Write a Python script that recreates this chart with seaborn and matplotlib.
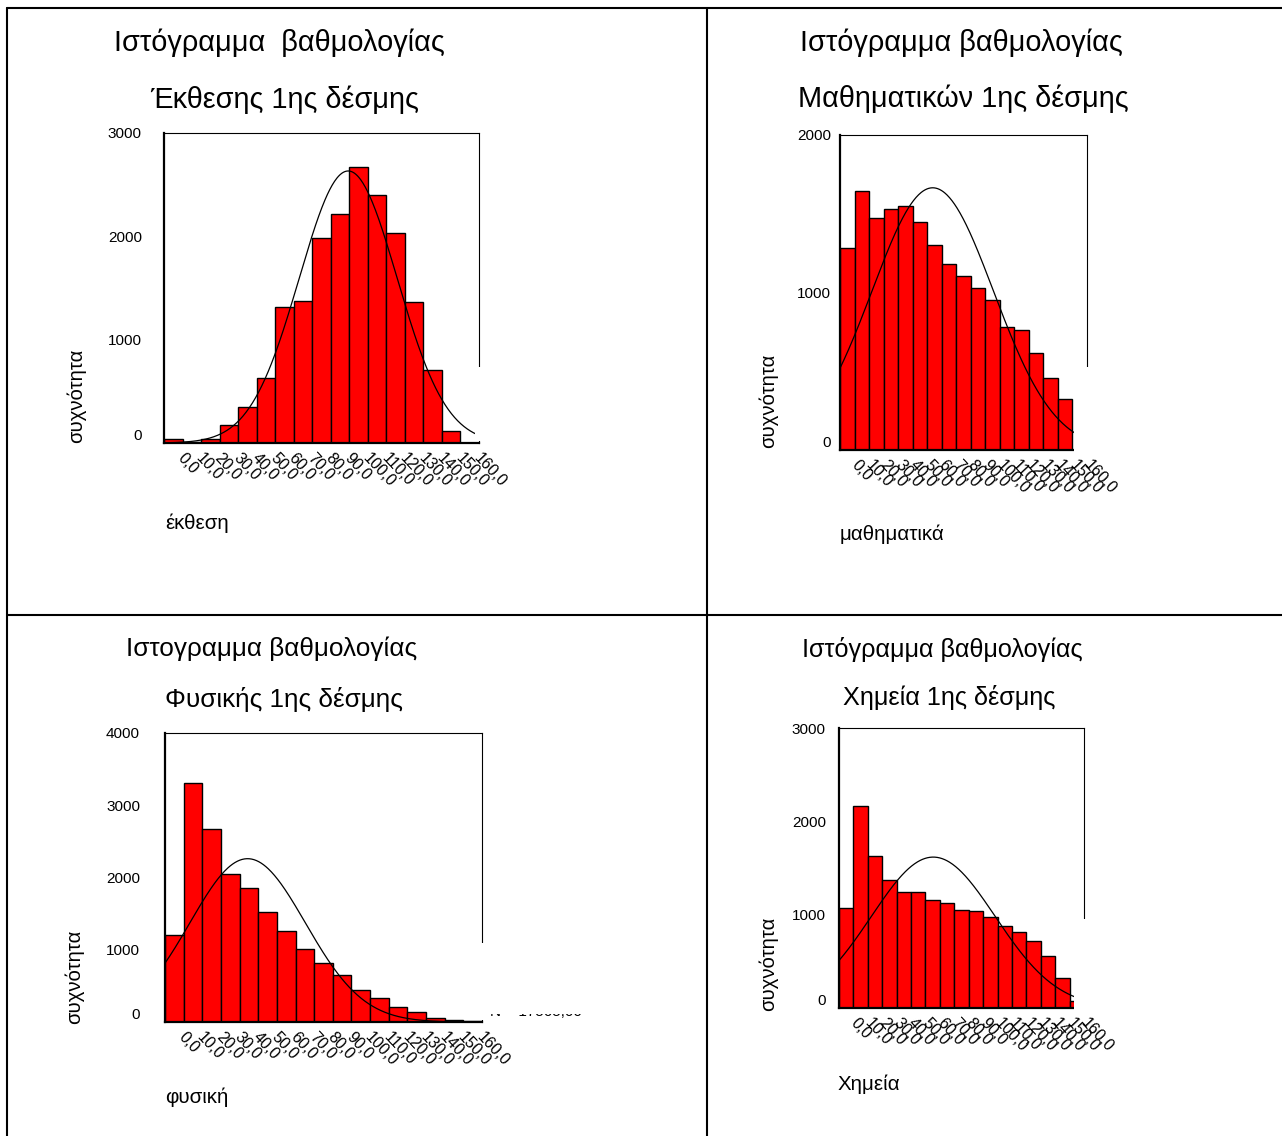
import numpy as np
import matplotlib
matplotlib.use("Agg")
import matplotlib.pyplot as plt
import matplotlib.transforms as mtransforms
from matplotlib.patches import Rectangle
from matplotlib.lines import Line2D
import seaborn as sns


# Step 1: data

# bin centres (score points) and their labels, same for all four subjects
bin_centers = [0, 10, 20, 30, 40, 50, 60, 70, 80, 90, 100, 110, 120, 130, 140, 150, 160]
bin_labels = ["0,0", "10,0", "20,0", "30,0", "40,0", "50,0", "60,0", "70,0", "80,0",
              "90,0", "100,0", "110,0", "120,0", "130,0", "140,0", "150,0", "160,0"]

# frequencies per bin
ekthesi_counts = [42, 10, 35, 171, 349, 630, 1313, 1377, 1988, 2215, 2667, 2402, 2034, 1364, 705, 116, 3]
mathimatika_counts = [1285, 1647, 1474, 1533, 1548, 1448, 1300, 1184, 1104, 1027, 951, 780, 765, 613, 459, 326, 0]
fysiki_counts = [1209, 3313, 2676, 2053, 1855, 1522, 1260, 1010, 812, 646, 448, 337, 203, 134, 55, 23, 9]
chimeia_counts = [1071, 2164, 1632, 1368, 1246, 1246, 1161, 1125, 1046, 1036, 975, 875, 814, 718, 554, 318, 79]

# normal curve parameters (mean, std dev) of each distribution
curve_means = [94.4, 58.8, 39.3, 60.4]
curve_sds = [26.4, 41.8, 31.0, 43.0]

title_lines_1 = ["Ιστόγραμμα  βαθμολογίας", "Ιστόγραμμα βαθμολογίας",
                 "Ιστογραμμα βαθμολογίας", "Ιστόγραμμα βαθμολογίας"]
title_lines_2 = ["Έκθεσης 1ης δέσμης", "Μαθηματικών 1ης δέσμης",
                 "Φυσικής 1ης δέσμης", "Χημεία 1ης δέσμης"]
x_names = ["έκθεση", "μαθηματικά", "φυσική", "Χημεία"]
y_name = "συχνότητα"
y_max = [3000, 2000, 4000, 3000]


# Step 2: layout helpers (pixels of the 1282x1136 picture)

W, H = 1282, 1136

sns.set_style("white")
plt.rcParams["font.family"] = ["Liberation Sans", "DejaVu Sans"]
plt.rcParams["text.color"] = "black"
plt.rcParams["axes.labelcolor"] = "black"
plt.rcParams["xtick.color"] = "black"
plt.rcParams["ytick.color"] = "black"

fig = plt.figure(figsize=(W / 100, H / 100), dpi=100)


def fx(x):
    return x / W


def fy(y):
    return 1 - y / H


def add_axes_px(left, top, right, bottom):
    return fig.add_axes([fx(left), fy(bottom), (right - left) / W, (bottom - top) / H])


panels = [
    # frame (l, t, r, b), ytick pad, cover box (x0, y0, y1), title centres, title size,
    # xlabel (x, y), ylabel (x, y)
    dict(frame=(164, 133, 479, 443), ypad=13, box=(0.987, 0.008, 0.245),
         t1=(279, 43), t2=(284.5, 100), tsize=20.8, xl=(165, 523), yl=(76, 396)),
    dict(frame=(840, 135, 1087, 450), ypad=3.6, box=(0.947, -0.015, 0.263),
         t1=(961, 43), t2=(963.5, 99), tsize=20.8, xl=(840, 534), yl=(768, 401)),
    dict(frame=(165, 733, 482, 1022), ypad=15, box=(0.995, 0.008, 0.273),
         t1=(271.5, 649), t2=(284, 699), tsize=18.8, xl=(165, 1097), yl=(74, 977)),
    dict(frame=(839, 728, 1084, 1008), ypad=6.5, box=(0.96, -0.015, 0.319),
         t1=(942, 649), t2=(949.5, 698), tsize=18.2, xl=(838, 1084), yl=(768, 964)),
]

all_counts = [ekthesi_counts, mathimatika_counts, fysiki_counts, chimeia_counts]
edges = [c - 5 for c in bin_centers] + [bin_centers[-1] + 5]
label_shift = mtransforms.ScaledTranslation(5 / 72, 0, fig.dpi_scale_trans)


# Step 3: draw the four histograms with their normal curves

for i, (p, counts) in enumerate(zip(panels, all_counts)):
    ax = add_axes_px(*p["frame"])
    ax.set_facecolor("white")

    sns.histplot(x=bin_centers, weights=counts, bins=edges, ax=ax,
                 color="#ff0000", alpha=1, edgecolor="black", linewidth=1.0)

    n_total = sum(counts)
    xs = np.linspace(-5, 165, 400)
    ys = n_total * 10 / (curve_sds[i] * np.sqrt(2 * np.pi)) * np.exp(
        -0.5 * ((xs - curve_means[i]) / curve_sds[i]) ** 2)
    sns.lineplot(x=xs, y=ys, ax=ax, color="black", linewidth=0.9)

    ax.set_xlim(-5, 165)
    ax.set_ylim(0, y_max[i])
    ax.set_yticks(range(0, y_max[i] + 1, 1000))
    ax.set_yticklabels([str(v) for v in range(0, y_max[i] + 1, 1000)])
    ax.set_xticks(bin_centers)
    ax.set_xticklabels(bin_labels, rotation=-47, ha="left", va="center",
                       rotation_mode="anchor")
    ax.set_xlabel("")
    ax.set_ylabel("")
    ax.tick_params(axis="x", direction="out", length=2, width=2.2, pad=7,
                   labelsize=11.5, colors="black")
    ax.tick_params(axis="y", direction="out", length=3, width=2, pad=p["ypad"],
                   labelsize=11, colors="black")
    # nudge the slanted labels a little to the right, as SPSS does
    for lab in ax.get_xticklabels():
        lab.set_transform(lab.get_transform() + label_shift)
    for lab in ax.get_yticklabels():
        if lab.get_text() == "0":
            lab.set_va("bottom")

    for side, lw in [("left", 1.6), ("bottom", 1.6), ("top", 0.8), ("right", 0.8)]:
        ax.spines[side].set_visible(True)
        ax.spines[side].set_color("black")
        ax.spines[side].set_linewidth(lw)

    # white box that hides the SPSS legend in the lower right corner
    bx0, by0, by1 = p["box"]
    ax.add_patch(Rectangle((bx0, by0), 0.2, by1 - by0, transform=ax.transAxes,
                           facecolor="white", edgecolor="none", clip_on=False, zorder=6))

    # titles and axis names
    fig.text(fx(p["t1"][0]), fy(p["t1"][1]), title_lines_1[i], ha="center", va="center",
             fontsize=p["tsize"])
    fig.text(fx(p["t2"][0]), fy(p["t2"][1]), title_lines_2[i], ha="center", va="center",
             fontsize=p["tsize"])
    fig.text(fx(p["xl"][0]), fy(p["xl"][1]), x_names[i], ha="left", va="center",
             fontsize=14.8)
    fig.text(fx(p["yl"][0]), fy(p["yl"][1]), y_name, ha="center", va="center",
             rotation=90, fontsize=14.6)

# leftover bottom of the hidden legend text in the physics panel
fig.text(fx(490), fy(1016.5), "N = 17565,00", ha="left", va="baseline", fontsize=11)
fig.add_artist(Rectangle((fx(486), fy(1014)), 100 / W, 40 / H, transform=fig.transFigure,
                         facecolor="white", edgecolor="none", zorder=10))

# table borders
border_lines = [((7, 7), (8, 1136)), ((7, 1282), (8, 8)),
                ((707, 707), (8, 1136)), ((7, 1282), (615, 615))]
for (x0, x1), (y0, y1) in border_lines:
    fig.add_artist(Line2D([fx(x0), fx(x1)], [fy(y0), fy(y1)], color="black",
                          linewidth=1.5, transform=fig.transFigure))

fig.savefig("out.png", dpi=100)
